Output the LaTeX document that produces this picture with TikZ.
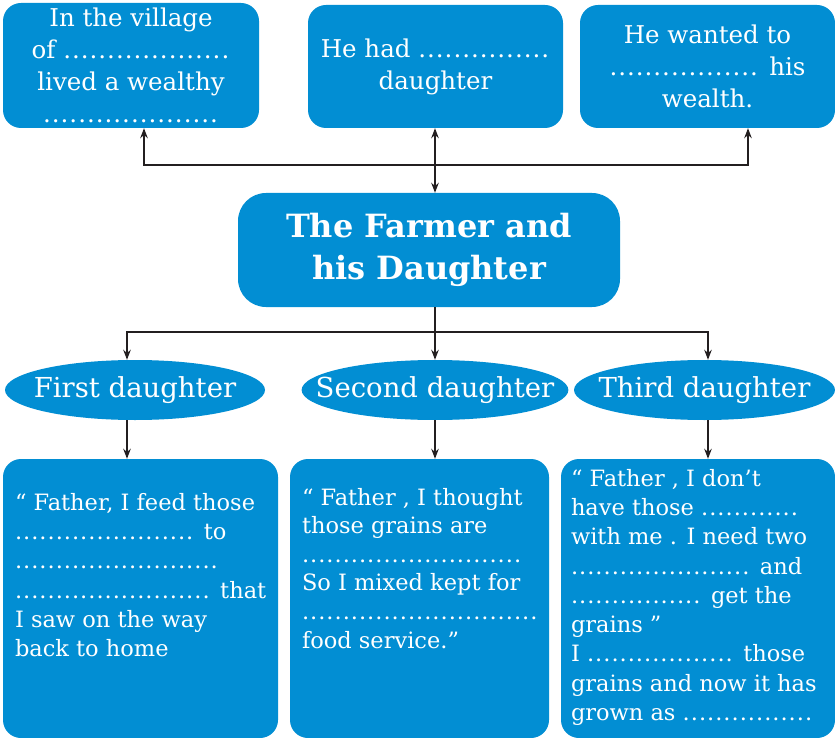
\documentclass[tikz,border=0pt]{standalone}
\usepackage{fontspec}
\setmainfont{DejaVu Serif}
\usetikzlibrary{arrows.meta,positioning,calc,shapes.geometric}
\definecolor{Sky}{HTML}{028ED3}
\definecolor{Ink}{HTML}{231F20}
% a run of dots for the blanks
\newcommand\blank[1]{\foreach\k in {1,...,#1}{.\kern1pt}}
\tikzset{
  topbox/.style={fill=Sky,rounded corners=18pt,minimum width=255pt,minimum height=123pt,
    inner sep=0pt,text=white,align=center,font=\fontsize{24.5}{32}\selectfont},
  titlebox/.style={fill=Sky,rounded corners=28pt,minimum width=382pt,minimum height=114pt,
    inner sep=0pt,text=white,align=center,font=\bfseries\fontsize{32}{42}\selectfont},
  daughter/.style={ellipse,fill=Sky,minimum width=260pt,minimum height=60pt,
    inner xsep=-25pt,inner ysep=0pt,text=white,font=\fontsize{27.5}{32}\selectfont},
  answerbox/.style={fill=Sky,rounded corners=18pt,minimum height=279pt,inner sep=0pt},
  answertext/.style={anchor=north west,inner sep=0pt,text=white,align=left,
    font=\fontsize{22.5}{29.3}\selectfont},
  link/.style={Ink,line width=1.4pt,-{Stealth[length=10pt,width=7.5pt]}},
}
\begin{document}
\begin{tikzpicture}[x=1pt,y=-1pt]
\useasboundingbox (0,0) rectangle (835,738);
% top row
\node[topbox,minimum width=256pt,minimum height=125pt] (top1) at (131,65.5)
  {In the village\\ of \blank{19}\\ lived a wealthy\\ \blank{20}};
\node[topbox] (top2) at (435.5,66.5) {He had \blank{15}\\ daughter};
\node[topbox] (top3) at (707.5,66.5) {He wanted to\\ \blank{17} his\\ wealth.};
% title
\node[titlebox] (title) at (429,250) {The Farmer and\\ his Daughter};
% daughters
\node[daughter] (e1) at (135,390) {First daughter};
\node[daughter,minimum width=256pt] (e2) at (435,390) {Second daughter};
\node[daughter,minimum width=261pt] (e3) at (704.5,390) {Third daughter};
% answers
\node[answerbox,minimum width=275pt] (b1) at (140.5,598.5) {};
\node[answerbox,minimum width=259pt] (b2) at (419.5,598.5) {};
\node[answerbox,minimum width=274pt] (b3) at (698,598.5) {};
\node[answertext] (b1txt) at ($(b1.north west)+(12,34)$)
  {“ Father, I feed those\\ \blank{22} to\\ \blank{25}\\ \blank{24} that\\
   I saw on the way\\ back to home};
\node[answertext,font=\fontsize{22.5}{28.6}\selectfont] (b2txt) at ($(b2.north west)+(12,29)$)
  {“ Father , I thought\\ those grains are\\ \blank{27}\\ So I mixed kept for\\
   \blank{29}\\ food service.”};
\node[answertext] (b3txt) at ($(b3.north west)+(10,10)$)
  {“ Father , I don’t\\ have those \blank{12}\\ with me . I need two\\
   \blank{22} and\\ \blank{16} get the\\ grains ”\\ I \blank{18} those\\
   grains and now it has\\ grown as \blank{16}};
% connectors to the top row
\coordinate (hubtop) at (435,165);
\draw[link,{Stealth[length=10pt,width=7.5pt]}-{Stealth[length=10pt,width=7.5pt]}]
  (top2.south -| hubtop) -- (title.north -| hubtop);
\draw[link] (hubtop) -| ([xshift=13]top1.south);
\draw[link] (hubtop) -| ([xshift=40.5]top3.south);
% connectors to the daughters
\coordinate (hubbot) at (435,332);
\draw[Ink,line width=1.4pt] (title.south -| hubbot) -- (hubbot);
\draw[link] (hubbot) -| ([xshift=-8]e1.north);
\draw[link] (hubbot) -- (e2.north);
\draw[link] (hubbot) -| ([xshift=3.5]e3.north);
\draw[link] ([xshift=-8]e1.south) -- ([xshift=-8]e1.south |- b1.north);
\draw[link] (e2.south) -- (e2.south |- b2.north);
\draw[link] ([xshift=3.5]e3.south) -- ([xshift=3.5]e3.south |- b3.north);
\end{tikzpicture}
\end{document}
